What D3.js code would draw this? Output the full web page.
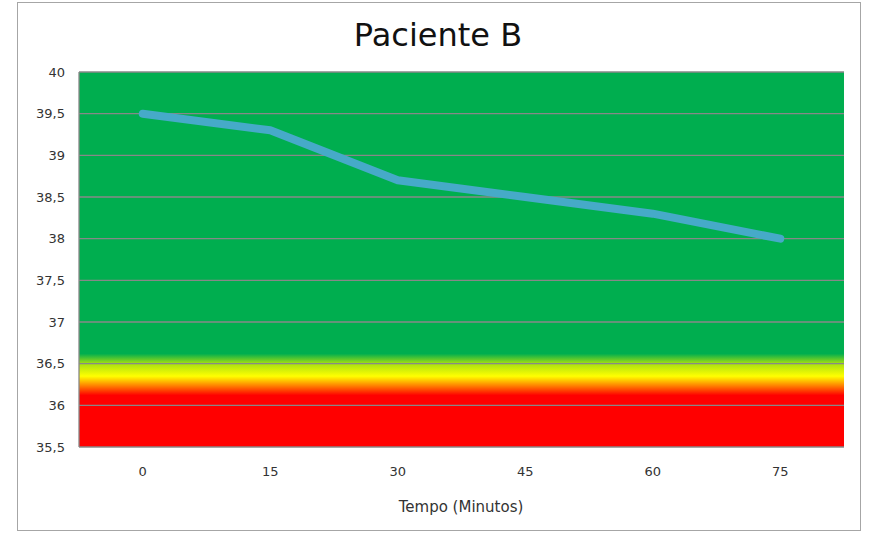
<!DOCTYPE html>
<html>
<head>
<meta charset="utf-8">
<script src="https://cdn.jsdelivr.net/npm/d3@7"></script>
<style>
  body { margin: 0; background: #fff; }
  text { font-family: "Century Gothic", "DejaVu Sans", sans-serif; fill: #333; }
</style>
</head>
<body>
<svg id="chart" width="869" height="534"></svg>
<script>
// data
const tempos = ['0', '15', '30', '45', '60', '75']
const temperaturas = [39.5, 39.3, 38.7, 38.5, 38.3, 38.0]
const yTicks = [35.5, 36, 36.5, 37, 37.5, 38, 38.5, 39, 39.5, 40]
// background bands: value -> colour
const faixaValores = [35.5, 36.12, 36.22, 36.35, 36.5, 36.62, 40]
const faixaCores = ['#ff0000', '#ff0000', '#ff7000', '#ffff00', '#a8e010', '#00ae4f', '#00ae4f']

const width = 869, height = 534
const margin = { top: 72, right: 25, bottom: 87, left: 79 }
const svg = d3.select('#chart')

// outer border
svg.append('rect')
  .attr('x', 17.5).attr('y', 2.5)
  .attr('width', 843).attr('height', 528)
  .attr('fill', '#fff').attr('stroke', '#a6a6a6')

const x = d3.scaleBand()
  .domain(tempos)
  .range([margin.left, width - margin.right])
  .padding(0)
const y = d3.scaleLinear()
  .domain([35.5, 40])
  .range([height - margin.bottom, margin.top])

// vertical gradient in the plot area
const defs = svg.append('defs')
const grad = defs.append('linearGradient')
  .attr('id', 'faixa')
  .attr('gradientUnits', 'userSpaceOnUse')
  .attr('x1', 0).attr('x2', 0)
  .attr('y1', y(35.5)).attr('y2', y(40))
grad.selectAll('stop')
  .data(faixaValores)
  .enter().append('stop')
  .attr('offset', d => (d - 35.5) / 4.5)
  .attr('stop-color', (d, i) => faixaCores[i])

svg.append('rect')
  .attr('x', margin.left).attr('y', margin.top)
  .attr('width', width - margin.left - margin.right)
  .attr('height', height - margin.top - margin.bottom)
  .attr('fill', 'url(#faixa)')

// gridlines
svg.append('g')
  .selectAll('line')
  .data(yTicks)
  .enter().append('line')
  .attr('x1', margin.left).attr('x2', width - margin.right)
  .attr('y1', d => y(d)).attr('y2', d => y(d))
  .attr('stroke', '#888').attr('stroke-width', 1.3)

svg.append('line')
  .attr('x1', margin.left).attr('x2', margin.left)
  .attr('y1', margin.top).attr('y2', height - margin.bottom)
  .attr('stroke', '#888').attr('stroke-width', 1.3)

// axes (labels only)
const yAxis = svg.append('g')
  .attr('transform', `translate(${margin.left},0)`)
  .call(d3.axisLeft(y).tickValues(yTicks).tickSize(0).tickPadding(14)
    .tickFormat(d => String(d).replace('.', ',')))
yAxis.select('.domain').remove()
yAxis.selectAll('text').style('font-size', '13px')

const xAxis = svg.append('g')
  .attr('transform', `translate(0,${height - margin.bottom})`)
  .call(d3.axisBottom(x).tickSize(0).tickPadding(20))
xAxis.select('.domain').remove()
xAxis.selectAll('text').style('font-size', '13px')

// line
const line = d3.line()
  .x((d, i) => x(tempos[i]) + x.bandwidth() / 2)
  .y(d => y(d))
svg.append('path')
  .datum(temperaturas)
  .attr('d', line)
  .attr('fill', 'none')
  .attr('stroke', '#46aac8')
  .attr('stroke-width', 8)
  .attr('stroke-linecap', 'round')
  .attr('stroke-linejoin', 'round')

// titles
svg.append('text')
  .attr('x', 438).attr('y', 46)
  .attr('text-anchor', 'middle')
  .style('font-size', '32px')
  .style('fill', '#111')
  .text('Paciente B')

svg.append('text')
  .attr('x', 461).attr('y', 512)
  .attr('text-anchor', 'middle')
  .style('font-size', '15px')
  .text('Tempo (Minutos)')
</script>
</body>
</html>
